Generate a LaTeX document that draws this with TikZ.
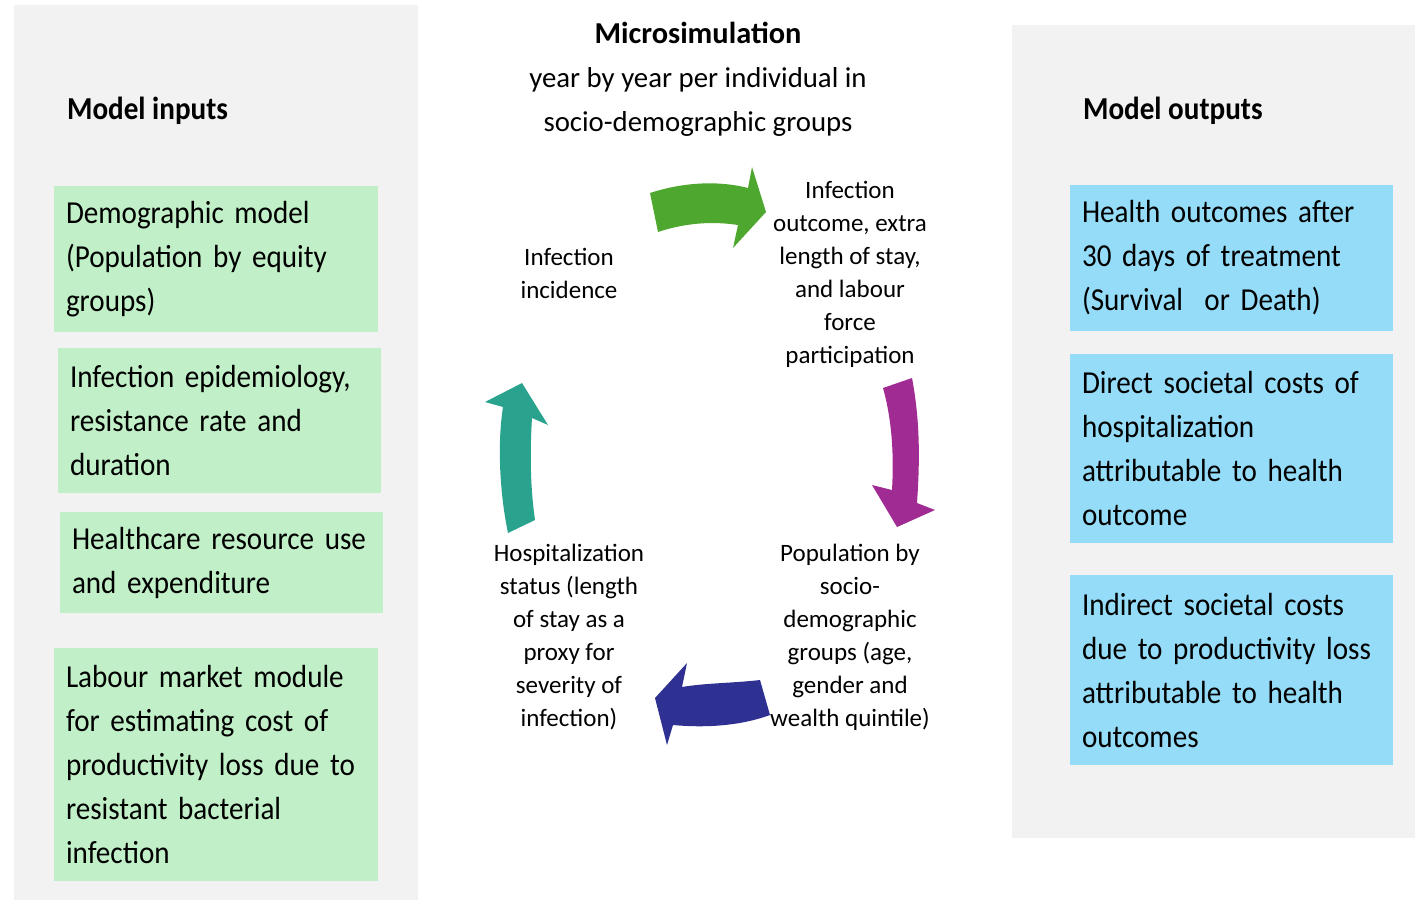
\documentclass[tikz,border=0pt]{standalone}
\usepackage{fontspec}
\setmainfont{Carlito}
\newfontfamily\narrowfont[FakeStretch=0.91]{Carlito}
\usepackage{tikz}
\usetikzlibrary{positioning}

\definecolor{panelgrey}{RGB}{242,242,242}
\definecolor{inputgreen}{RGB}{193,240,200}
\definecolor{outputblue}{RGB}{148,220,248}
\definecolor{arrgreen}{RGB}{78,167,46}
\definecolor{arrpurple}{RGB}{160,43,147}
\definecolor{arrteal}{RGB}{41,163,142}
\definecolor{arrblue}{RGB}{46,49,146}

\tikzset{
    inbox/.style={rectangle, fill=inputgreen, inner xsep=6pt, inner ysep=0pt,
        align=left, font=\narrowfont\fontsize{16}{22}\selectfont},
    outbox/.style={rectangle, fill=outputblue, inner xsep=6pt, inner ysep=0pt,
        align=left, font=\narrowfont\fontsize{16}{22}\selectfont},
    heading/.style={anchor=west, font=\narrowfont\bfseries\fontsize{16}{22}\selectfont},
    stage/.style={align=center, font=\fontsize{12.5}{16.5}\selectfont}
}

\begin{document}
\begin{tikzpicture}[x=0.5pt, y=-0.5pt]
    \useasboundingbox (0,0) rectangle (1422,900);

    % grey panels
    \fill[panelgrey] (14,5) rectangle (418,900);
    \fill[panelgrey] (1012,25) rectangle (1415,838);

    \node[heading] (inhead) at (60,111) {Model inputs};
    \node[heading] (outhead) at (1076,111) {Model outputs};

    % input boxes
    \node[inbox, minimum width=162pt, minimum height=73pt, text width=150pt] (in1) at (216,259)
        {Demographic model\\(Population by equity\\groups)};
    \node[inbox, minimum width=161.5pt, minimum height=72.5pt, text width=149.5pt] (in2) at (219.5,420.5)
        {Infection epidemiology,\\resistance rate and\\duration};
    \node[inbox, minimum width=161.5pt, minimum height=50.5pt, text width=149.5pt] (in3) at (221.5,562.5)
        {Healthcare resource use\\and expenditure};
    \node[inbox, minimum width=162pt, minimum height=116.5pt, text width=150pt] (in4) at (216,764.5)
        {Labour market module\\for estimating cost of\\productivity loss due to\\resistant bacterial\\infection};

    % output boxes
    \node[outbox, minimum width=161.5pt, minimum height=73pt, text width=149.5pt] (out1) at (1231.5,258)
        {Health outcomes after\\30 days of treatment\\(Survival\ \ or Death)};
    \node[outbox, minimum width=161.5pt, minimum height=94.5pt, text width=149.5pt] (out2) at (1231.5,448.5)
        {Direct societal costs of\\hospitalization\\attributable to health\\outcome};
    \node[outbox, minimum width=161.5pt, minimum height=95pt, text width=149.5pt] (out3) at (1231.5,670)
        {Indirect societal costs\\due to productivity loss\\attributable to health\\outcomes};

    % microsimulation title
    \node[align=center, font=\fontsize{14.4}{22}\selectfont] (title) at (698,79)
        {{\fontsize{15.2}{22}\selectfont\bfseries Microsimulation}\\year by year per individual in\\socio-demographic groups};

    % cycle stages
    \node[stage] (incid) at (569,273.5) {Infection\\incidence};
    \node[stage] (outc) at (850,274) {Infection\\outcome, extra\\length of stay,\\and labour\\force\\participation};
    \node[stage] (popn) at (850,637.5) {Population by\\socio-\\demographic\\groups (age,\\gender and\\wealth quintile)};
    \node[stage] (hosp) at (569,637.5) {Hospitalization\\status (length\\of stay as a\\proxy for\\severity of\\infection)};

    % curved block arrows
    \fill[arrgreen] (650,193) .. controls (690,180) and (725,182) .. (748,188)
        -- (752,167) -- (766,212) -- (733,248) -- (738,225)
        .. controls (712,221) and (685,223) .. (658,232) -- cycle;
    \fill[arrpurple] (883,388) -- (912,378) .. controls (920,420) and (920,460) .. (917,503)
        -- (935,510) -- (897,527) -- (872,485) -- (892,490)
        .. controls (894,455) and (892,420) .. cycle;
    \fill[arrblue] (760,680) -- (770,715) .. controls (740,726) and (705,728) .. (673,725)
        -- (667,745) -- (655,698) -- (687,663) -- (682,687)
        .. controls (705,683) and (735,683) .. cycle;
    \fill[arrteal] (508,533) -- (535,520) .. controls (530,485) and (530,450) .. (532,418)
        -- (548,425) -- (522,383) -- (485,402) -- (503,407)
        .. controls (497,445) and (500,495) .. cycle;
\end{tikzpicture}
\end{document}
